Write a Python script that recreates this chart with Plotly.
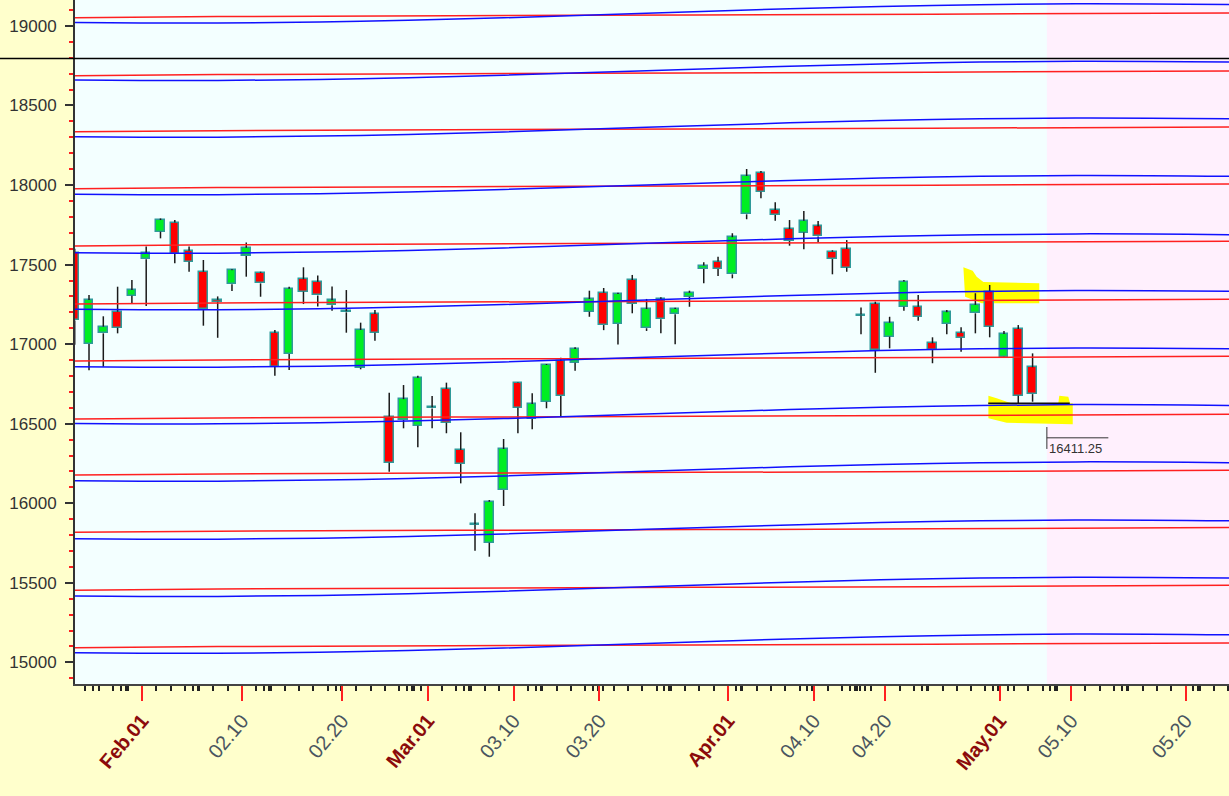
import datetime as dt
import plotly.graph_objects as go

# ---------------- data ----------------
dates = ["2022-01-24", "2022-01-25", "2022-01-27", "2022-01-28", "2022-01-31",
         "2022-02-01", "2022-02-02", "2022-02-03", "2022-02-04", "2022-02-07",
         "2022-02-08", "2022-02-09", "2022-02-10", "2022-02-11", "2022-02-14",
         "2022-02-15", "2022-02-16", "2022-02-17", "2022-02-18", "2022-02-21",
         "2022-02-22", "2022-02-23", "2022-02-24", "2022-02-25", "2022-02-28",
         "2022-03-02", "2022-03-03", "2022-03-04", "2022-03-07", "2022-03-08",
         "2022-03-09", "2022-03-10", "2022-03-11", "2022-03-14", "2022-03-15",
         "2022-03-16", "2022-03-17", "2022-03-21", "2022-03-22", "2022-03-23",
         "2022-03-24", "2022-03-25", "2022-03-28", "2022-03-29", "2022-03-30",
         "2022-03-31", "2022-04-01", "2022-04-04", "2022-04-05", "2022-04-06",
         "2022-04-07", "2022-04-08", "2022-04-11", "2022-04-12", "2022-04-13",
         "2022-04-18", "2022-04-19", "2022-04-20", "2022-04-21", "2022-04-22",
         "2022-04-25", "2022-04-26", "2022-04-27", "2022-04-28", "2022-04-29",
         "2022-05-02", "2022-05-04", "2022-05-05"]

opens = [17575, 17001, 17068, 17204, 17304, 17533, 17707, 17764, 17587, 17455,
         17279, 17376, 17554, 17449, 17072, 16938, 17407, 17392, 17244, 17200,
         16852, 17190, 16544, 16523, 16487, 16596, 16719, 16335, 15866, 15752,
         16083, 16758, 16529, 16638, 16894, 16883, 17204, 17323, 17126, 17403,
         17100, 17284, 17188, 17298, 17472, 17519, 17439, 17816, 18078, 17843,
         17723, 17701, 17740, 17581, 17598, 17186, 17252, 17047, 17235, 17235,
         17005, 17127, 17072, 17194, 17327, 16921, 17095, 16854]
highs = [17599, 17309, 17175, 17361, 17403, 17613, 17790, 17780, 17613, 17529,
         17300, 17470, 17639, 17455, 17089, 17361, 17483, 17431, 17362, 17340,
         17135, 17215, 16695, 16743, 16802, 16674, 16758, 16446, 15937, 16020,
         16404, 16760, 16691, 16875, 16915, 16980, 17336, 17353, 17323, 17435,
         17284, 17295, 17228, 17336, 17514, 17550, 17697, 18101, 18088, 17892,
         17780, 17837, 17774, 17590, 17654, 17231, 17267, 17172, 17403, 17309,
         17043, 17215, 17106, 17320, 17372, 17083, 17120, 16942]
lows = [16997, 16836, 16858, 17068, 17257, 17240, 17665, 17508, 17455, 17116,
        17040, 17334, 17424, 17298, 16802, 16837, 17252, 17236, 17210, 17072,
        16842, 17022, 16198, 16471, 16352, 16471, 16440, 16125, 15702, 15664,
        15983, 16440, 16465, 16597, 16544, 16833, 17172, 17088, 16998, 17194,
        17083, 17068, 16999, 17235, 17382, 17428, 17414, 17785, 17917, 17776,
        17619, 17596, 17640, 17439, 17455, 17062, 16820, 16974, 17210, 17147,
        16880, 17062, 16953, 17068, 17043, 16917, 16624, 16638]
closes = [17149, 17277, 17110, 17103, 17340, 17571, 17780, 17566, 17518, 17219,
          17266, 17464, 17606, 17382, 16856, 17348, 17330, 17306, 17276, 17206,
          17089, 17072, 16255, 16654, 16789, 16604, 16506, 16247, 15864, 16010,
          16341, 16600, 16624, 16869, 16674, 16969, 17284, 17120, 17315, 17252,
          17221, 17156, 17221, 17323, 17494, 17472, 17672, 18057, 17958, 17812,
          17648, 17776, 17677, 17535, 17481, 17180, 16963, 17135, 17393, 17172,
          16963, 17200, 17040, 17247, 17110, 17064, 16676, 16686]

# planetary-style level lines: level at the left edge (trough) + shared drift profile
blue_levels = [15057, 15414, 15774, 16139, 16499, 16855, 17216, 17572, 17939, 18301, 18657, 19018]
red_levels = [15092, 15454, 15817, 16177, 16529, 16894, 17252, 17617, 17977, 18335, 18687, 19052]
blue_drift_pos = [0, 10, 20, 30, 40, 50, 60, 70, 80.74]
blue_drift_val = [3, 0, 11, 33, 62, 90, 111, 121, 116]
red_drift_pos = [0, 10, 35, 60, 80.74]
red_drift_val = [0, 7, 15, 22, 30]

black_level = 18795
last_price = 16411.25
support_level = 16628

tick_dates = ["2022-02-01", "2022-02-10", "2022-02-20", "2022-03-01", "2022-03-10", "2022-03-20",
              "2022-04-01", "2022-04-10", "2022-04-20", "2022-05-01", "2022-05-10", "2022-05-20"]
tick_labels = ["Feb.01", "02.10", "02.20", "Mar.01", "03.10", "03.20",
               "Apr.01", "04.10", "04.20", "May.01", "05.10", "05.20"]

# highlighter strokes (position index, price)
hl_upper_pos = [62.16, 62.81, 63.09, 63.56, 67.47, 67.47, 63.44, 62.28]
hl_upper_val = [17483, 17462, 17424, 17391, 17382, 17257, 17257, 17298]
hl_lower_pos = [63.91, 64.49, 65.19, 65.54, 68.80, 68.87, 69.50, 69.62, 69.81, 69.81, 65.19, 63.91]
hl_lower_val = [16676, 16660, 16638, 16628, 16628, 16676, 16670, 16628, 16628, 16496, 16506, 16534]

# ---------------- trading-day axis ----------------
d_objs = [dt.date.fromisoformat(d) for d in dates]
trading = list(d_objs)
day = d_objs[-1] + dt.timedelta(days=1)
while day <= dt.date(2022, 6, 3):
    if day.weekday() < 5:
        trading.append(day)
    day += dt.timedelta(days=1)
tindex = {d: i for i, d in enumerate(trading)}
N = len(dates)
xs = list(range(N))


def date_pos(d):
    for i, t in enumerate(trading):
        if t >= d:
            return i - 0.3
    return len(trading) - 0.3


tickvals = [date_pos(dt.date.fromisoformat(d)) for d in tick_dates]
ticktext = []
for lab in tick_labels:
    if lab[0].isalpha():
        ticktext.append("<b><span style='color:#8b0b0b'>%s</span></b>" % lab)
    else:
        ticktext.append("<span style='color:#4a5560'>%s</span>" % lab)

minor_vals = []
day = dt.date(2022, 1, 22)
run = 0
prev_i = -1
while day <= dt.date(2022, 5, 31):
    if day in tindex:
        prev_i = tindex[day]
        minor_vals.append(prev_i - 0.3)
        run = 0
    else:
        minor_vals.append(prev_i - 0.3 + 0.55 + 0.35 * run)
        run += 1
    day += dt.timedelta(days=1)

XMIN, XMAX = 0.02, 80.74
YMIN, YMAX = 14864, 19163

fig = go.Figure()

# wicks (upper and lower parts, not crossing the body)
wx, wy = [], []
for i in xs:
    top = max(opens[i], closes[i])
    bot = min(opens[i], closes[i])
    wx += [i, i, None, i, i, None]
    wy += [highs[i], top, None, bot, lows[i], None]
fig.add_trace(go.Scatter(x=wx, y=wy, mode="lines", line=dict(color="#1a1a1a", width=1.5),
                         hoverinfo="skip"))

# bodies
base = [min(o, c) for o, c in zip(opens, closes)]
hgt = [max(abs(c - o), 4) for o, c in zip(opens, closes)]
cols = ["#00ee22" if c >= o else "#ff0000" for o, c in zip(opens, closes)]
fig.add_trace(go.Bar(x=xs, y=hgt, base=base, width=0.6, marker=dict(color=cols,
                     line=dict(color="#2f9a9a", width=1.5)), hoverinfo="skip"))

# level lines
for levels, dpos, dval, col in [(red_levels, red_drift_pos, red_drift_val, "#ff2020"),
                                (blue_levels, blue_drift_pos, blue_drift_val, "#1010ff")]:
    lx, ly = [], []
    for lv in levels:
        lx += list(dpos) + [None]
        ly += [lv + v for v in dval] + [None]
    fig.add_trace(go.Scatter(x=lx, y=ly, mode="lines", line=dict(color=col, width=1.5, shape="spline",
                                                                 smoothing=1.0),
                             hoverinfo="skip", connectgaps=False))

shapes = []
# future (pink) zone
shapes.append(dict(type="rect", xref="x", yref="paper", x0=N, x1=XMAX + 5, y0=0, y1=1,
                   fillcolor="#fff0fd", line=dict(width=0), layer="below"))
# highlighter strokes
for px_, pv_ in [(hl_upper_pos, hl_upper_val), (hl_lower_pos, hl_lower_val)]:
    path = "M " + " L ".join("%s,%s" % (a, b) for a, b in zip(px_, pv_)) + " Z"
    shapes.append(dict(type="path", xref="x", yref="y", path=path, fillcolor="#ffff00",
                       line=dict(width=0), layer="below"))
# black horizontal line (extends over the axis area)
shapes.append(dict(type="line", xref="paper", yref="y", x0=-0.07, x1=1, y0=black_level, y1=black_level,
                   line=dict(color="#000000", width=1.5)))
# support line at recent low
shapes.append(dict(type="line", xref="x", yref="y", x0=63.9, x1=69.6, y0=support_level, y1=support_level,
                   line=dict(color="#111111", width=1.5)))
# last price tag
shapes.append(dict(type="line", xref="x", yref="y", x0=N, x1=N, y0=last_price - 70, y1=last_price + 68,
                   line=dict(color="#333333", width=1)))
shapes.append(dict(type="line", xref="x", yref="y", x0=N, x1=N + 4.3, y0=last_price, y1=last_price,
                   line=dict(color="#333333", width=1)))

fig.add_annotation(x=N, y=last_price, text="%.2f" % last_price, showarrow=False, xanchor="left",
                   yanchor="top", xshift=0, yshift=-1, font=dict(family="Arial", size=13, color="#333333"))

fig.update_layout(
    width=1229, height=796,
    margin=dict(l=75, r=0, t=0, b=112, pad=0),
    paper_bgcolor="#ffffcc", plot_bgcolor="#f3ffff",
    showlegend=False, bargap=0,
    shapes=shapes,
    xaxis=dict(range=[XMIN, XMAX], tickmode="array", tickvals=tickvals, ticktext=ticktext,
               tickangle=-50, ticks="outside", ticklen=15, tickcolor="#ff2020", tickwidth=1.5,
               showgrid=False, zeroline=False, showline=True, linecolor="#444444", linewidth=2,
               tickfont=dict(family="Arial", size=20),
               minor=dict(tickmode="array", tickvals=minor_vals, ticks="outside", ticklen=5,
                          tickcolor="#222222", tickwidth=1.5, showgrid=False)),
    yaxis=dict(range=[YMIN, YMAX], tick0=15000, dtick=500, tickformat="d", ticks="outside", ticklen=8,
               tickcolor="#333333", tickwidth=1.5, showgrid=False, zeroline=False,
               showline=True, linecolor="#333333", linewidth=2, ticklabelstandoff=5,
               tickfont=dict(family="Arial", size=17, color="#333333"),
               minor=dict(dtick=100, tick0=15000, ticks="outside", ticklen=4, tickcolor="#ff2020",
                          tickwidth=1.5, showgrid=False)),
)

fig.write_html("out.html", config={"displayModeBar": False},
               post_script="document.body.style.margin='0';document.body.style.overflow='hidden';")
